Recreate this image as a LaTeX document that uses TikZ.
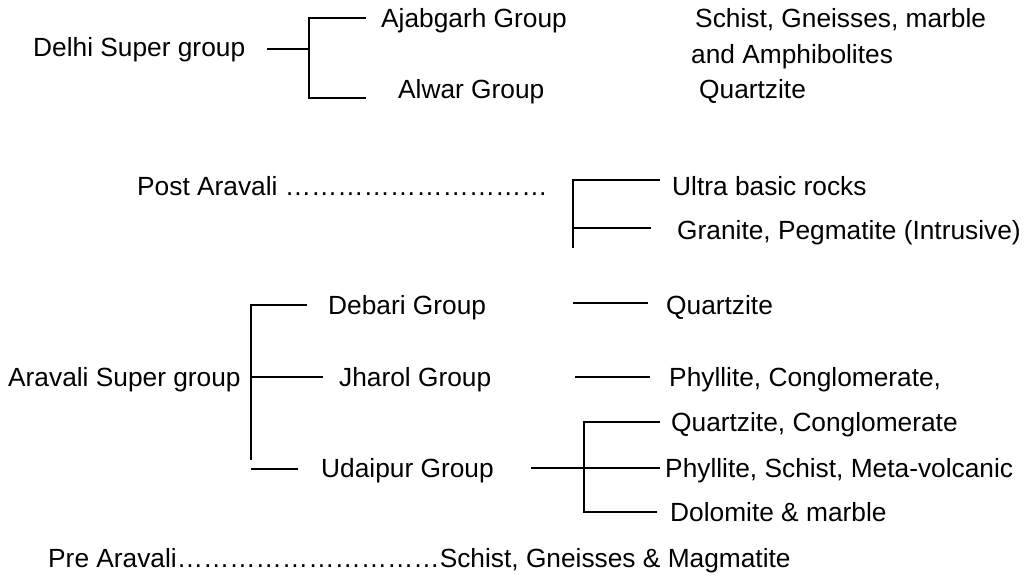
\documentclass[tikz,border=0pt]{standalone}
\usepackage{fontspec}
\setmainfont{Liberation Sans}
\usepackage{tikz}
\usetikzlibrary{positioning,calc}
\newcommand{\rockdots}[1]{\foreach \k in {1,...,#1}{…}}

\begin{document}
\begin{tikzpicture}[x=1pt,y=-1pt,
		rock/.style={anchor=base west,inner sep=0pt,font=\fontsize{26.3}{30}\selectfont},
		brace/.style={line width=1.7pt}]
		\useasboundingbox (0,0) rectangle (1027,575);
		% Delhi super group
		\node[rock] (delhi) at (33,57) {Delhi Super group};
		\node[rock] (ajab) at (381,28) {Ajabgarh Group};
		\node[rock] (alwar) at (398,99) {Alwar Group};
		\node[rock] (schist) at (695,28) {Schist, Gneisses, marble};
		\node[rock] (amph) at (691,64) {and Amphibolites};
		\node[rock] (qtzA) at (699,99) {Quartzite};
		\coordinate (dStem) at (267,49);
		\coordinate (dJoin) at (309,49);
		\coordinate (dTop) at (366,18);
		\coordinate (dBot) at (366,98);
		\draw[brace] (dStem) -- (dJoin);
		\draw[brace] (dTop) -| (dJoin) |- (dBot);
		% Post Aravali
		\node[rock] (post) at (137,195) {Post Aravali \rockdots{10}};
		\node[rock] (ultra) at (672,195) {Ultra basic rocks};
		\node[rock] (granite) at (677,239) {Granite, Pegmatite (Intrusive)};
		\coordinate (pTop) at (660,180);
		\coordinate (pEnd) at (573,248);
		\coordinate (pJoin) at (573,228);
		\coordinate (pMid) at (651,228);
		\draw[brace] (pTop) -| (pEnd);
		\draw[brace] (pJoin) -- (pMid);
		% Aravali super group
		\node[rock] (aravali) at (8,386) {Aravali Super group};
		\node[rock] (debari) at (328,314) {Debari Group};
		\node[rock] (jharol) at (339,386) {Jharol Group};
		\node[rock] (udaipur) at (321,477) {Udaipur Group};
		\coordinate (aTop) at (307,305);
		\coordinate (aEnd) at (251,460);
		\coordinate (aJoin) at (251,377);
		\coordinate (aJh) at (323,377);
		\coordinate (aUa) at (251,469);
		\coordinate (aUb) at (298,469);
		\draw[brace] (aTop) -| (aEnd);
		\draw[brace] (aJoin) -- (aJh);
		\draw[brace] (aUa) -- (aUb);
		% rocks of Debari and Jharol
		\node[rock] (qtzB) at (666,314) {Quartzite};
		\node[rock] (phylA) at (669,386) {Phyllite, Conglomerate,};
		\coordinate (qB1) at (573,303);
		\coordinate (qB2) at (648,303);
		\coordinate (pA1) at (575,377);
		\coordinate (pA2) at (650,377);
		\draw[brace] (qB1) -- (qB2);
		\draw[brace] (pA1) -- (pA2);
		% rocks of Udaipur
		\node[rock] (qtzC) at (671,431) {Quartzite, Conglomerate};
		\node[rock] (phylB) at (665,477) {Phyllite, Schist, Meta-volcanic};
		\node[rock] (dolo) at (670,521) {Dolomite \& marble};
		\coordinate (uStem) at (531,468);
		\coordinate (uMid) at (660,468);
		\coordinate (uJoin) at (584,468);
		\coordinate (uTop) at (660,422);
		\coordinate (uBot) at (657,512);
		\draw[brace] (uStem) -- (uMid);
		\draw[brace] (uTop) -| (uJoin) |- (uBot);
		% Pre Aravali
		\node[rock] (pre) at (48,567) {Pre Aravali\rockdots{10}Schist, Gneisses \& Magmatite};
	\end{tikzpicture}
\end{document}
